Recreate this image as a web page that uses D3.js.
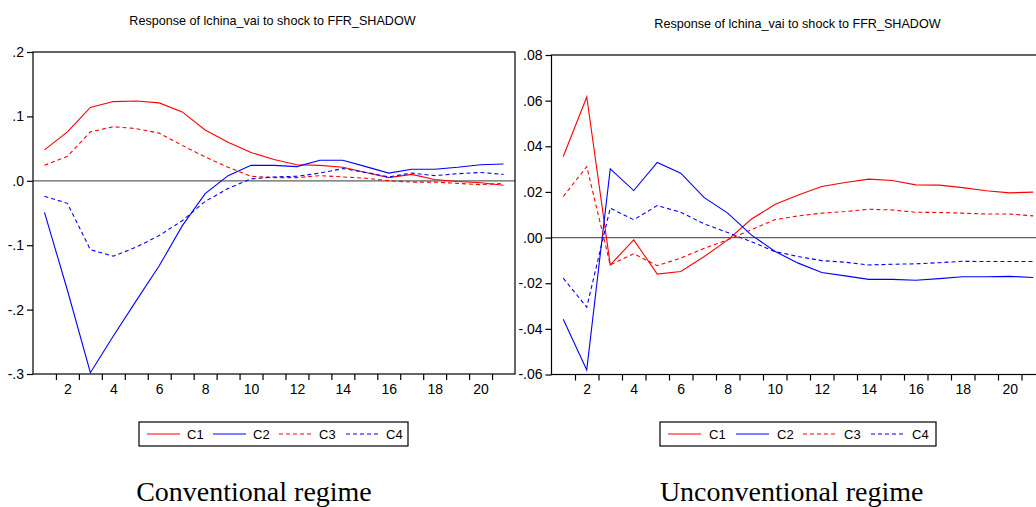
<!DOCTYPE html>
<html>
<head>
<meta charset="utf-8">
<script src="https://cdn.jsdelivr.net/npm/d3@7"></script>
<style>
  body { margin: 0; background: #fff; }
  svg { display: block; }
  text { font-family: "Liberation Sans", Arial, sans-serif; fill: #000; }
</style>
</head>
<body>
<svg id="chart" width="1036" height="507"></svg>
<script>
// Impulse responses, horizons 1..21
const periods = d3.range(1, 22);
const xTickLabels = [2, 4, 6, 8, 10, 12, 14, 16, 18, 20];
const seriesNames = ["C1", "C2", "C3", "C4"];
const chartTitle = "Response of lchina_vai to shock to FFR_SHADOW";
const regimeNames = ["Conventional regime", "Unconventional regime"];

// Conventional regime
const convC1 = [0.048, 0.076, 0.114, 0.123, 0.124, 0.121, 0.107, 0.079, 0.060, 0.044, 0.033, 0.025, 0.024, 0.021, 0.013, 0.005, 0.010, 0.002, -0.001, -0.003, -0.007];
const convC2 = [-0.049, -0.170, -0.298, -0.241, -0.186, -0.132, -0.070, -0.020, 0.008, 0.024, 0.024, 0.022, 0.032, 0.032, 0.022, 0.012, 0.018, 0.018, 0.021, 0.025, 0.026];
const convC3 = [0.024, 0.038, 0.076, 0.084, 0.081, 0.074, 0.055, 0.037, 0.021, 0.007, 0.005, 0.005, 0.008, 0.006, 0.004, 0.000, -0.002, -0.002, -0.004, -0.006, -0.004];
const convC4 = [-0.024, -0.035, -0.107, -0.117, -0.103, -0.085, -0.062, -0.032, -0.012, 0.003, 0.006, 0.007, 0.012, 0.019, 0.013, 0.006, 0.012, 0.008, 0.011, 0.013, 0.010];
const convYTicks = [0.2, 0.1, 0.0, -0.1, -0.2, -0.3];

// Unconventional regime
const unconvC1 = [0.0355, 0.0616, -0.0120, -0.0010, -0.0160, -0.0149, -0.0083, -0.0010, 0.0080, 0.0145, 0.0187, 0.0224, 0.0241, 0.0256, 0.0250, 0.0231, 0.0230, 0.0219, 0.0205, 0.0196, 0.0199];
const unconvC2 = [-0.0358, -0.0580, 0.0301, 0.0206, 0.0329, 0.0282, 0.0175, 0.0107, 0.0012, -0.0060, -0.0112, -0.0153, -0.0168, -0.0183, -0.0183, -0.0187, -0.0180, -0.0172, -0.0172, -0.0170, -0.0175];
const unconvC3 = [0.0180, 0.0311, -0.0120, -0.0071, -0.0123, -0.0090, -0.0047, -0.0010, 0.0034, 0.0078, 0.0095, 0.0107, 0.0114, 0.0124, 0.0121, 0.0111, 0.0110, 0.0107, 0.0103, 0.0103, 0.0095];
const unconvC4 = [-0.0178, -0.0305, 0.0129, 0.0078, 0.0140, 0.0111, 0.0060, 0.0022, -0.0018, -0.0061, -0.0083, -0.0101, -0.0108, -0.0120, -0.0117, -0.0115, -0.0110, -0.0104, -0.0105, -0.0105, -0.0105];
const unconvYTicks = [0.08, 0.06, 0.04, 0.02, 0.00, -0.02, -0.04, -0.06];

const seriesStyle = [
  { color: "#ff0000", dash: null },
  { color: "#0000ff", dash: null },
  { color: "#ff0000", dash: "4,3" },
  { color: "#0000ff", dash: "4,3" }
];

const panels = [
  {
    data: [convC1, convC2, convC3, convC4], yTicks: convYTicks, yDomain: [-0.3, 0.2], decimals: 1,
    box: { x0: 33, x1: 515, y0: 52, y1: 374 },
    titleX: 272.5, titleY: 25,
    legend: { x0: 139, x1: 408, y0: 422, y1: 446, lines: [147, 213, 279, 346], lineW: 33, gap: 7 },
    regimeX: 254, regimeY: 501, regime: regimeNames[0]
  },
  {
    data: [unconvC1, unconvC2, unconvC3, unconvC4], yTicks: unconvYTicks, yDomain: [-0.06, 0.08], decimals: 2,
    box: { x0: 551.5, x1: 1045, y0: 55, y1: 374.5 },
    titleX: 797.5, titleY: 28,
    legend: { x0: 660, x1: 936, y0: 422, y1: 446, lines: [668, 736, 803, 871], lineW: 33, gap: 8 },
    regimeX: 791.7, regimeY: 501, regime: regimeNames[1]
  }
];

const svg = d3.select("#chart");

// ".2", "-.3", ".00" style labels with a plain hyphen for negatives
function tickText(v, decimals) {
  return d3.format("." + decimals + "f")(v).replace("\u2212", "-").replace(/^(-?)0\./, "$1.");
}

panels.forEach(p => {
  const b = p.box;
  const g = svg.append("g");

  const x = d3.scaleLinear().domain([0.5, 21.5]).range([b.x0, b.x1]);
  const y = d3.scaleLinear().domain(p.yDomain).range([b.y1, b.y0]);

  // title
  g.append("text")
    .attr("x", p.titleX).attr("y", p.titleY)
    .attr("text-anchor", "middle")
    .style("font-size", "12.6px")
    .text(chartTitle);

  // zero line
  g.append("line")
    .attr("x1", b.x0).attr("x2", b.x1)
    .attr("y1", y(0)).attr("y2", y(0))
    .attr("stroke", "#606060").attr("stroke-width", 1.2);

  // series
  const line = d3.line()
    .x((d, i) => x(periods[i]))
    .y(d => y(d));
  p.data.forEach((vals, k) => {
    g.append("path")
      .datum(vals)
      .attr("d", line)
      .attr("fill", "none")
      .attr("stroke", seriesStyle[k].color)
      .attr("stroke-width", 1.1)
      .attr("stroke-dasharray", seriesStyle[k].dash);
  });

  // frame
  g.append("rect")
    .attr("x", b.x0).attr("y", b.y0)
    .attr("width", b.x1 - b.x0).attr("height", b.y1 - b.y0)
    .attr("fill", "none").attr("stroke", "#000").attr("stroke-width", 1.2);

  // y axis
  const yAxis = g.append("g")
    .attr("transform", `translate(${b.x0},0)`)
    .call(d3.axisLeft(y).tickValues(p.yTicks).tickSizeInner(6).tickSizeOuter(0).tickPadding(3)
      .tickFormat(v => tickText(v, p.decimals)));
  yAxis.select(".domain").remove();
  yAxis.selectAll("line").attr("stroke", "#000").attr("stroke-width", 1.2);
  yAxis.selectAll("text").style("font-size", "14px").attr("font-family", null);

  // x axis: ticks between horizons, labels on even horizons
  const xTicks = g.append("g")
    .attr("transform", `translate(0,${b.y1})`)
    .call(d3.axisBottom(x).tickValues(d3.range(1.5, 21, 1)).tickSizeInner(6).tickSizeOuter(0).tickFormat(""));
  xTicks.select(".domain").remove();
  xTicks.selectAll("line").attr("stroke", "#000").attr("stroke-width", 1.2);

  const xLabels = g.append("g")
    .attr("transform", `translate(0,${b.y1})`)
    .call(d3.axisBottom(x).tickValues(xTickLabels).tickSize(0).tickPadding(10).tickFormat(d3.format("d")));
  xLabels.select(".domain").remove();
  xLabels.selectAll("text").style("font-size", "14px").attr("font-family", null);

  // legend
  const L = p.legend;
  const lg = g.append("g");
  lg.append("rect")
    .attr("x", L.x0).attr("y", L.y0)
    .attr("width", L.x1 - L.x0).attr("height", L.y1 - L.y0)
    .attr("fill", "#fff").attr("stroke", "#000").attr("stroke-width", 1.2);
  const ly = (L.y0 + L.y1) / 2;
  seriesNames.forEach((name, k) => {
    lg.append("line")
      .attr("x1", L.lines[k]).attr("x2", L.lines[k] + L.lineW)
      .attr("y1", ly).attr("y2", ly)
      .attr("stroke", seriesStyle[k].color).attr("stroke-width", 1.1)
      .attr("stroke-dasharray", seriesStyle[k].dash);
    lg.append("text")
      .attr("x", L.lines[k] + L.lineW + L.gap).attr("y", ly)
      .attr("dy", "0.36em")
      .style("font-size", "13px")
      .text(name);
  });

  // regime caption
  g.append("text")
    .attr("x", p.regimeX).attr("y", p.regimeY)
    .attr("text-anchor", "middle")
    .style("font-family", "'Liberation Serif', 'Times New Roman', serif")
    .style("font-size", "28px")
    .text(p.regime);
});
</script>
</body>
</html>
